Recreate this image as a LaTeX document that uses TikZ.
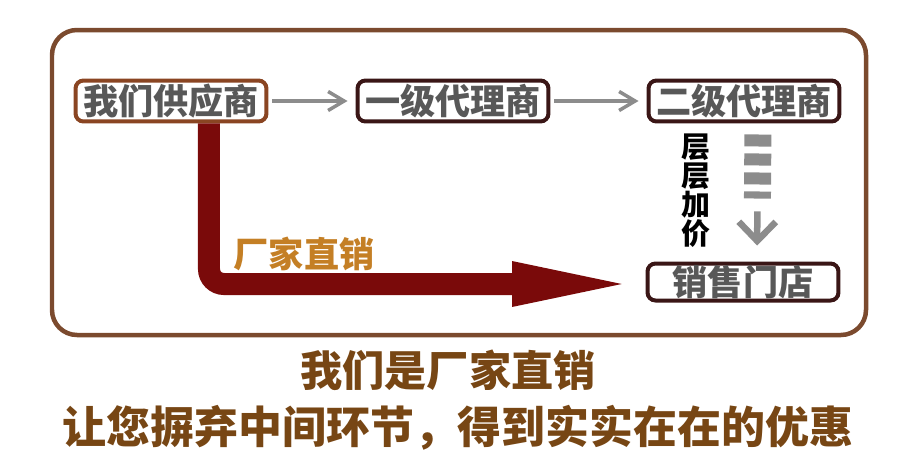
\documentclass[tikz,border=0pt]{standalone}
\usepackage{fontspec}
\setmainfont{Noto Sans CJK SC}
\usetikzlibrary{positioning,arrows.meta,calc}
\definecolor{framebrown}{HTML}{7B4A2E}
\definecolor{supbrown}{HTML}{8A4522}
\definecolor{agentdark}{HTML}{3A1616}
\definecolor{boxgray}{HTML}{585858}
\definecolor{arrowgray}{HTML}{8C8C8C}
\definecolor{directred}{HTML}{7A0A0A}
\definecolor{labelorange}{HTML}{C47F25}
\definecolor{slogan}{HTML}{774614}

\begin{document}
\begin{tikzpicture}[x=0.02cm, y=-0.02cm,
    every node/.style={font=\bfseries},
    chainbox/.style={draw=agentdark, line width=0.08cm, rounded corners=0.16cm, fill=white,
      text=boxgray, minimum width=3.82cm, minimum height=0.82cm, inner sep=0pt,
      font=\fontsize{20}{20}\selectfont\bfseries},
    grayarrow/.style={arrowgray, line width=0.07cm, -{Straight Barb[length=0.32cm,width=0.38cm]},
      shorten <=0.08cm, shorten >=0.16cm},
    directarrow/.style={directred, line width=0.44cm, rounded corners=0.3cm,
      -{Triangle[length=2.7cm,width=0.76cm]}},
    markupdash/.style={arrowgray, line width=0.54cm, dash pattern=on 0.24cm off 0.14cm},
    markuparrow/.style={arrowgray, line width=0.13cm, -{Straight Barb[length=0.38cm,width=0.74cm]}}]
  \useasboundingbox (0,0) rectangle (920,450);
  % frame
  \draw[framebrown, line width=0.09cm, rounded corners=0.5cm] (52,30) rectangle (866,335);

  % chain of dealers
  \node[chainbox, draw=supbrown] (sup) at (171,101) {我们供应商};
  \node[chainbox] (agent1) at (453,101) {一级代理商};
  \node[chainbox] (agent2) at (744,101) {二级代理商};
  \node[chainbox, minimum height=0.74cm] (shop) at (743,282) {销售门店};
  \draw[grayarrow] (sup) -- (agent1);
  \draw[grayarrow] (agent1) -- (agent2);

  % markup between agent and shop
  \draw[markupdash, shorten <=0.22cm, shorten >=1.26cm] ([xshift=0.28cm]agent2.south) -- ([xshift=0.28cm]shop.north);
  \draw[markuparrow, shorten <=1.76cm, shorten >=0.32cm] ([xshift=0.28cm]agent2.south) -- ([xshift=0.28cm]shop.north);
  \node[align=center, font=\fontsize{16.5}{16.5}\selectfont\bfseries] (markup) at (696,191) {层\\层\\加\\价};

  % direct sale
  \draw[directarrow] ([xshift=0.76cm]sup.south) |- ([xshift=0.03cm,yshift=-0.04cm]shop.west);
  \node[labelorange, font=\fontsize{20}{20}\selectfont\bfseries] (direct) at (304,254) {厂家直销};

  % slogan
  \node[slogan, font=\fontsize{24}{24}\selectfont\bfseries] (slogan1) at (448,370) {我们是厂家直销};
  \node[slogan, font=\fontsize{25}{25}\selectfont\bfseries] (slogan2) at (458,428) {让您摒弃中间环节，得到实实在在的优惠};
\end{tikzpicture}
\end{document}
